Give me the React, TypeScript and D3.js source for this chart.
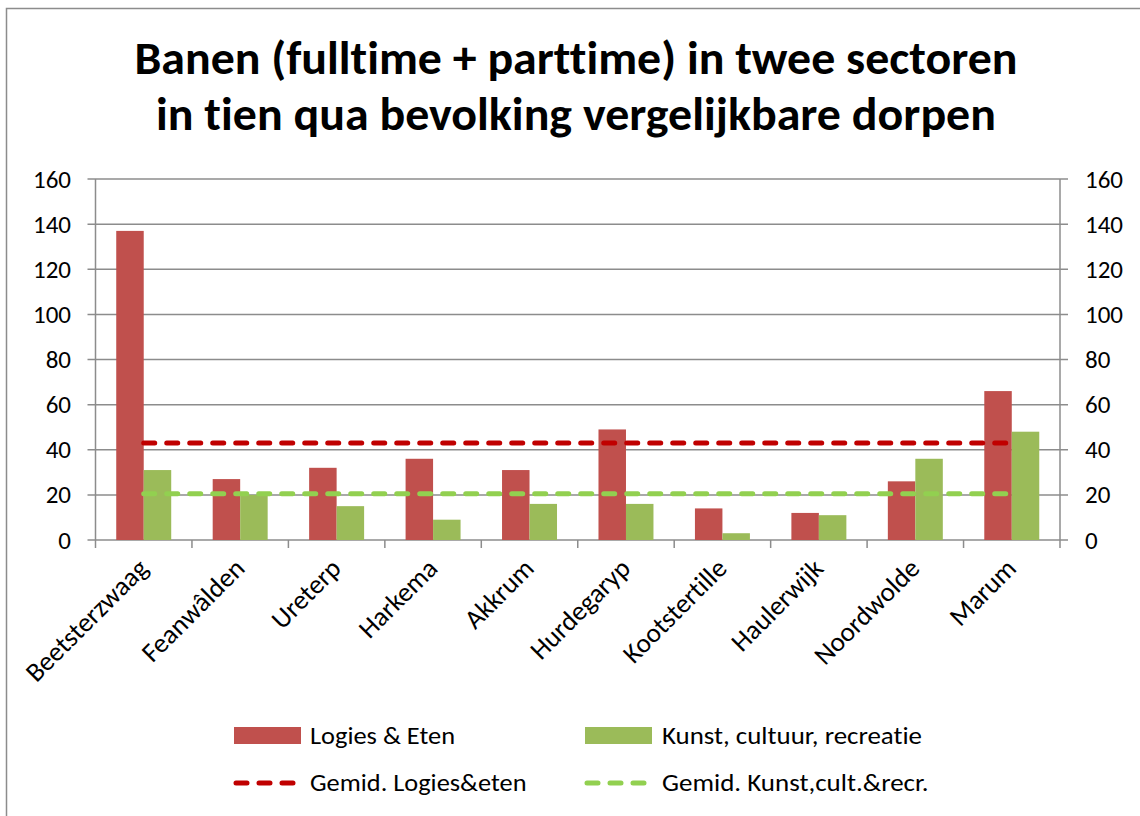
import React from "react";
import * as d3 from "d3";

const categories = ["Beetsterzwaag", "Feanwâlden", "Ureterp", "Harkema", "Akkrum", "Hurdegaryp", "Kootstertille", "Haulerwijk", "Noordwolde", "Marum"];
const logiesEten = [137, 27, 32, 36, 31, 49, 14, 12, 26, 66];
const kunstCultuur = [31, 20, 15, 9, 16, 16, 3, 11, 36, 48];
const gemLogies = [43, 43, 43, 43, 43, 43, 43, 43, 43, 43];
const gemKunst = [20.5, 20.5, 20.5, 20.5, 20.5, 20.5, 20.5, 20.5, 20.5, 20.5];
const yTicks = [0, 20, 40, 60, 80, 100, 120, 140, 160];
const titleLines = ["Banen (fulltime + parttime) in twee sectoren", "in tien qua bevolking vergelijkbare dorpen"];
const seriesNames = ["Logies & Eten", "Kunst, cultuur, recreatie", "Gemid. Logies&eten", "Gemid. Kunst,cult.&recr."];

const FONT = "Carlito, Calibri, 'Liberation Sans Narrow', 'Open Sans', sans-serif";

export default function App() {
  const W = 1140, H = 816;
  const left = 95.5, right = 1060, top = 179, bottom = 540;
  const x = d3.scaleBand<string>().domain(categories).range([left, right]).paddingInner(0).paddingOuter(0);
  const y = d3.scaleLinear().domain([0, 160]).range([bottom, top]);
  const bw = x.bandwidth();
  const barW = bw * 0.285;
  const line = d3.line<number>().x((_, i) => x(categories[i])! + bw / 2).y((d) => y(d));
  const grid = "#8c8c8c";
  const red = "#C0504D", green = "#9BBB59", dred = "#C00000", dgreen = "#92D050";
  const dash = "11 12";
  const legendW = [145, 260, 216.5, 266.5];

  return (
    <svg width={W} height={H} style={{ position: "absolute", left: 0, top: 0, background: "#fff", fontVariantLigatures: "none" }} fontFamily={FONT}>
      <rect x={6.5} y={8.5} width={W + 10} height={H + 10} fill="#fff" stroke="#8c8c8c" strokeWidth={1.5} />
      {titleLines.map((t, i) => (
        <text key={i} x={576} y={74 + i * 56} textAnchor="middle" fontSize={46} fontWeight="bold" fill="#000"
          textLength={i === 0 ? 883 : 840} lengthAdjust="spacingAndGlyphs">{t}</text>
      ))}
      {/* gridlines */}
      {yTicks.map((t) => (
        <line key={t} x1={left - 8} x2={right + 8} y1={y(t)} y2={y(t)} stroke={grid} strokeWidth={1.5} />
      ))}
      {/* axes */}
      <line x1={left} x2={left} y1={top} y2={bottom} stroke={grid} strokeWidth={1.5} />
      <line x1={right} x2={right} y1={top} y2={bottom + 8} stroke={grid} strokeWidth={1.5} />
      {categories.map((c) => (
        <line key={c} x1={x(c)!} x2={x(c)!} y1={bottom} y2={bottom + 8} stroke={grid} strokeWidth={1.5} />
      ))}
      {/* y labels */}
      {yTicks.map((t) => (
        <g key={t}>
          <text x={71} y={y(t) + 8.5} textAnchor="end" fontSize={25} fill="#000">{t}</text>
          <text x={1085} y={y(t) + 8.5} textAnchor="start" fontSize={25} fill="#000">{t}</text>
        </g>
      ))}
      {/* bars */}
      {categories.map((c, i) => {
        const cx = x(c)! + bw / 2;
        return (
          <g key={c}>
            <rect x={cx - barW} y={y(logiesEten[i])} width={barW} height={bottom - y(logiesEten[i])} fill={red} />
            <rect x={cx} y={y(kunstCultuur[i])} width={barW} height={bottom - y(kunstCultuur[i])} fill={green} />
          </g>
        );
      })}
      {/* average lines */}
      <path d={line(gemLogies)!} fill="none" stroke={dred} strokeWidth={5} strokeDasharray={dash} strokeLinecap="round" />
      <path d={line(gemKunst)!} fill="none" stroke={dgreen} strokeWidth={5} strokeDasharray={dash} strokeLinecap="round" />
      {/* x labels */}
      {categories.map((c) => {
        const cx = x(c)! + bw / 2 + 6;
        const ly = bottom + 30;
        return (
          <text key={c} x={cx} y={ly} textAnchor="end" fontSize={27} fill="#000" transform={`rotate(-45, ${cx}, ${ly})`}>{c}</text>
        );
      })}
      {/* legend */}
      <rect x={234} y={727} width={67} height={17} fill={red} />
      <text x={310} y={744} fontSize={25} fill="#000" textLength={legendW[0]} lengthAdjust="spacingAndGlyphs">{seriesNames[0]}</text>
      <rect x={585} y={727} width={67} height={17} fill={green} />
      <text x={662} y={744} fontSize={25} fill="#000" textLength={legendW[1]} lengthAdjust="spacingAndGlyphs">{seriesNames[1]}</text>
      <line x1={236} x2={298} y1={783} y2={783} stroke={dred} strokeWidth={5} strokeDasharray="11 12" strokeLinecap="round" />
      <text x={310} y={791} fontSize={25} fill="#000" textLength={legendW[2]} lengthAdjust="spacingAndGlyphs">{seriesNames[2]}</text>
      <line x1={587} x2={650} y1={783} y2={783} stroke={dgreen} strokeWidth={5} strokeDasharray="11 12" strokeLinecap="round" />
      <text x={662} y={791} fontSize={25} fill="#000" textLength={legendW[3]} lengthAdjust="spacingAndGlyphs">{seriesNames[3]}</text>
    </svg>
  );
}
